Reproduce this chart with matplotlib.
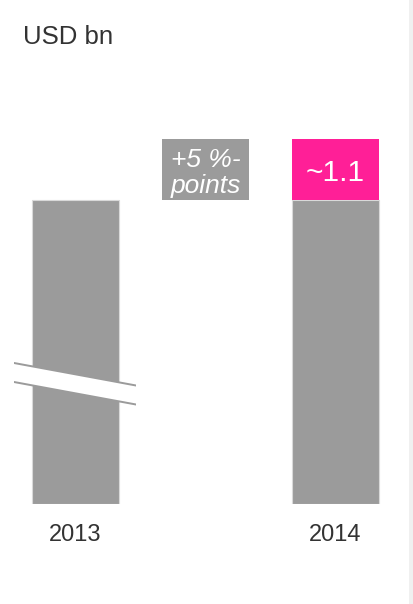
import matplotlib
matplotlib.use("Agg")
import matplotlib.pyplot as plt
from matplotlib.patches import Rectangle, Polygon

plt.rcParams['font.family'] = ['Liberation Sans', 'DejaVu Sans']

# ---- data ----
years = ["2013", "2014"]
base_values = [5.5, 5.5]          # USD bn (axis broken)
increase_value = 1.1              # 2014 increment
increase_label = "~1.1"
delta_label = "+5 %-\npoints"
unit_label = "USD bn"

GRAY = "#9b9b9b"
PINK = "#ff1f97"
TEXT = "#333333"

W, H = 413, 604
fig = plt.figure(figsize=(W / 100, H / 100), dpi=100)
fig.patch.set_facecolor("white")

px_per_unit = 304 / base_values[0]
ax = fig.add_axes([0, 100 / H, 1, 504 / H])
ax.set_ylim(0, 504 / px_per_unit)
ax.set_xlim(-75.5 / 260, 1 + 77.5 / 260)
ax.axis("off")

xpos = [0, 1]
bw = 87 / 260
ax.bar(xpos, base_values, width=bw, color=GRAY, edgecolor="#d9d9d9", linewidth=0.8)
ax.bar([xpos[1]], [increase_value], bottom=[base_values[1]], width=bw, color=PINK, linewidth=0)
# delta box in between
ax.bar([0.5], [increase_value], bottom=[base_values[0]], width=bw, color=GRAY, linewidth=0)

ax.text(xpos[1], base_values[1] + increase_value / 2, increase_label, color="white",
        fontsize=21.5, ha="center", va="center_baseline")
ax.text(0.5, base_values[0] + increase_value / 2 - 3 / px_per_unit, delta_label, color="white",
        fontsize=19, style="italic", ha="center", va="center", linespacing=1.1)

# axis break on 2013 bar
x0, x1 = -61.5 / 260, 60.5 / 260
yc0 = (504 - 372.5) / px_per_unit
yc1 = (504 - 395) / px_per_unit
hg = 10.5 / px_per_unit
hw = 8.5 / px_per_unit
ax.add_patch(Polygon([[x0, yc0 + hg], [x1, yc1 + hg], [x1, yc1 - hg], [x0, yc0 - hg]],
                     closed=True, facecolor=GRAY, edgecolor="none", zorder=3))
ax.add_patch(Polygon([[x0, yc0 + hw], [x1, yc1 + hw], [x1, yc1 - hw], [x0, yc0 - hw]],
                     closed=True, facecolor="white", edgecolor="none", zorder=4))

for x, lab in zip(xpos, years):
    ax.text(x, -37 / px_per_unit, lab, color=TEXT, fontsize=17, ha="center", va="baseline")

fig.text(23 / W, 1 - 44 / H, unit_label, color=TEXT, fontsize=18.5, ha="left", va="baseline")

fig.patches.append(Rectangle((409 / W, 0), 4 / W, 1, transform=fig.transFigure,
                             facecolor="#f0f0f0", edgecolor="none"))

fig.savefig("out.png", dpi=100)
